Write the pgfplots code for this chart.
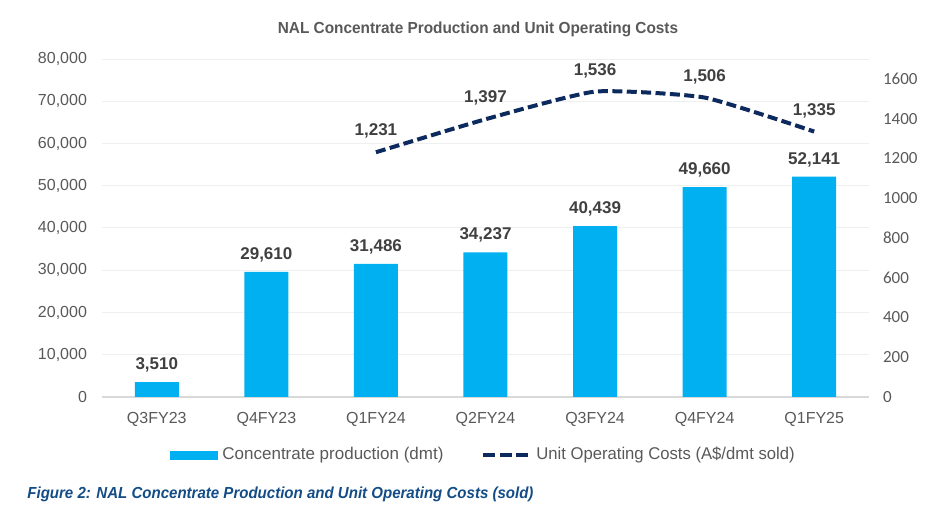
\documentclass[border=0pt]{standalone}
\usepackage{pgfplots}
\pgfplotsset{compat=1.18}
\usepackage{fontspec}
\setmainfont{Liberation Sans}
\newfontfamily\calfont{Carlito}
\definecolor{barblue}{HTML}{00B0F0}
\definecolor{navy}{HTML}{0C2A5E}
\definecolor{tickgray}{HTML}{595959}
\definecolor{labgray}{HTML}{404040}
\definecolor{capblue}{HTML}{134C86}
\definecolor{gridgray}{HTML}{EFEFEF}
\definecolor{axisgray}{HTML}{D9D9D9}
\pgfplotsset{/pgf/number format/assume math mode=true}
\begin{document}
\begin{tikzpicture}[x=1pt,y=1pt]
\useasboundingbox (0,0) rectangle (469.5,259.5);
\begin{axis}[
  at={(51pt,61pt)}, anchor=south west,
  scale only axis, width=383.5pt, height=169pt,
  xmin=-0.5, xmax=6.5, ymin=0, ymax=80000,
  xtick=data, xticklabels={Q3FY23,Q4FY23,Q1FY24,Q2FY24,Q3FY24,Q4FY24,Q1FY25},
  ytick={0,10000,...,80000},
  yticklabel style={/pgf/number format/1000 sep={,}, font=\fontsize{8}{9}\selectfont, text=tickgray},
  xticklabel style={font=\fontsize{8}{9}\selectfont, text=tickgray},
  scaled y ticks=false,
  major tick length=0pt,
  axis line style={draw=none},
  ymajorgrids, grid style={gridgray, line width=0.5pt},
  yticklabel shift=4pt, xticklabel shift=4pt,
  ybar, bar width=22pt,
  nodes near coords={\pgfmathprintnumber[1000 sep={,}]{\pgfplotspointmeta}},
  nodes near coords style={font=\bfseries\fontsize{8.5}{10}\selectfont, text=labgray, anchor=center, yshift=8.5pt},
  clip=false,
]
\draw[axisgray, line width=0.6pt] (axis cs:-0.5,0) -- (axis cs:6.5,0);
\addplot[fill=barblue, draw=none] coordinates {(0,3510) (1,29610) (2,31486) (3,34237) (4,40439) (5,49660) (6,52141)};
\end{axis}
\begin{axis}[
  at={(51pt,61pt)}, anchor=south west,
  scale only axis, width=383.5pt, height=169pt,
  xmin=-0.5, xmax=6.5, ymin=0, ymax=1700,
  axis y line*=right, axis x line=none,
  axis line style={draw=none},
  ytick={0,200,...,1600},
  yticklabel style={/pgf/number format/1000 sep={}, font=\calfont\fontsize{8.5}{9}\selectfont, text=tickgray, anchor=west},
  major tick length=0pt,
  yticklabel shift=3.5pt,
  nodes near coords={\pgfmathprintnumber[1000 sep={,}]{\pgfplotspointmeta}},
  nodes near coords style={font=\bfseries\fontsize{8.5}{10}\selectfont, text=labgray, anchor=center, yshift=10.5pt},
  clip=false,
  legend columns=2,
  legend style={at={(axis description cs:0.0887,-0.1716)}, anchor=west, draw=none, fill=none,
    inner sep=0pt, outer sep=0pt, column sep=0pt,
    /tikz/column 2/.style={column sep=19pt},
    nodes={inner sep=0pt, anchor=west, font=\fontsize{8.5}{10}\selectfont, text=tickgray}},
]
\addlegendimage{legend image code/.code={\fill[barblue] (0pt,-2pt) rectangle (23.3pt,2pt);}}
\addlegendentry{\hspace{2.5pt}Concentrate production (dmt)}
\addplot[navy, line width=2pt, dash pattern=on 5pt off 2.2pt, smooth, tension=0.3, mark=none,
  legend image code/.code={\draw[navy, line width=1.6pt, dash pattern=on 6pt off 2.2pt] (0pt,0pt) -- (23.3pt,0pt);}]
  coordinates {(2,1231) (3,1397) (4,1536) (5,1506) (6,1335)};
\addlegendentry{\hspace{2.5pt}\scalebox{0.98}[1]{Unit Operating Costs (A\$/dmt sold)}}
\end{axis}
% title
\node[font=\bfseries\fontsize{8}{9}\selectfont, text=tickgray] at (239,245) {\scalebox{0.96}[1]{NAL Concentrate Production and Unit Operating Costs}};
% caption
\node[anchor=west, inner sep=0pt, font=\bfseries\itshape\fontsize{8}{9}\selectfont, text=capblue] at (13.5,12.5) {\scalebox{0.94}[1]{Figure 2: NAL Concentrate Production and Unit Operating Costs (sold)}};
\end{tikzpicture}
\end{document}
